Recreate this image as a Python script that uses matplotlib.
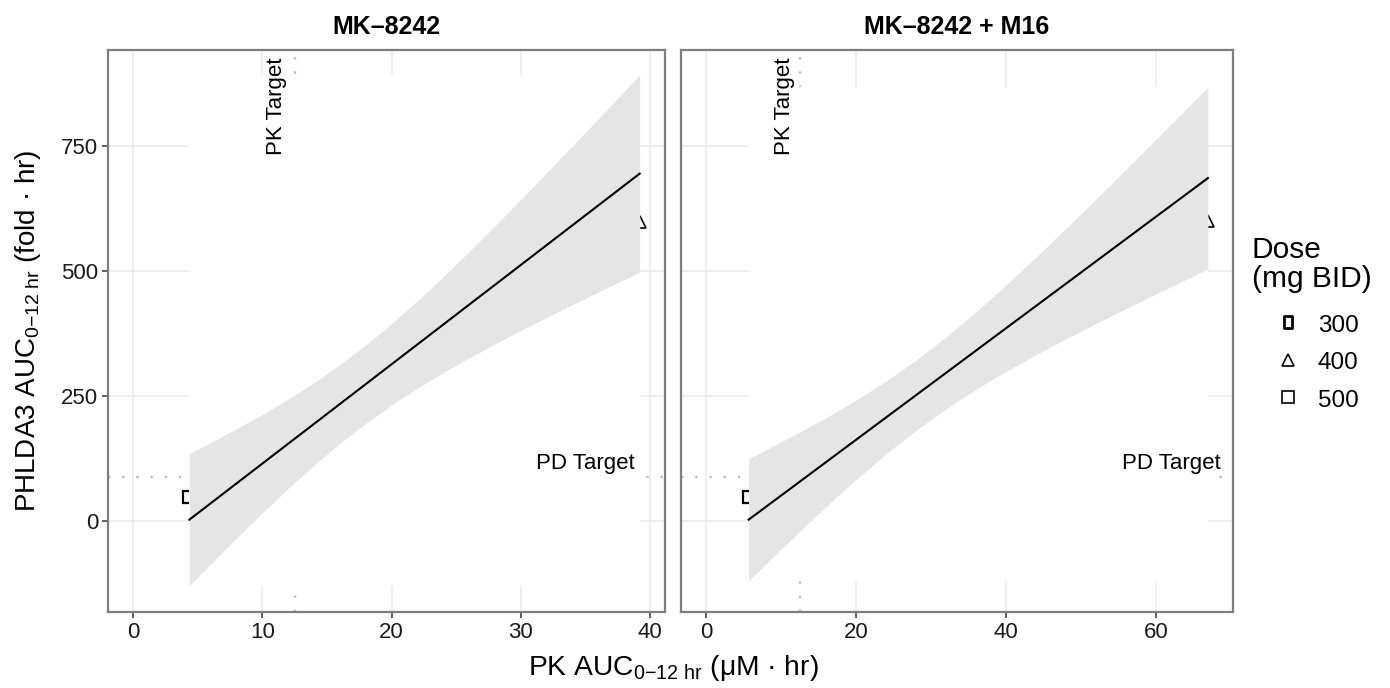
import matplotlib
matplotlib.use("Agg")
import matplotlib.pyplot as plt
from matplotlib.lines import Line2D
from matplotlib.path import Path
from matplotlib.patches import Rectangle

plt.rcParams["font.family"] = ["Liberation Sans", "DejaVu Sans"]
plt.rcParams["mathtext.fontset"] = "custom"
plt.rcParams["mathtext.rm"] = "Liberation Sans"
plt.rcParams["mathtext.it"] = "Liberation Sans"
plt.rcParams["mathtext.default"] = "regular"

# panels (facets)
panels = ["MK–8242", "MK–8242 + M16"]
x_limits = [(-1.96, 41.16), (-3.35, 70.25)]
x_ticks = [[0, 10, 20, 30, 40], [0, 20, 40, 60]]
y_ticks = [0, 250, 500, 750]
y_limits = (-181, 942)

# observed points by dose (only those visible)
pk_300 = [4.34, 5.67]
pd_300 = [48, 48]
pk_400 = [39.2, 66.9]
pd_400 = [598, 600]

# linear fit ends
fit_x = [[4.34, 39.2], [5.67, 66.9]]
fit_y = [[3.5, 695], [3.5, 686]]

# confidence band
band_x = [
    [4.34, 6, 8, 10, 12, 14, 16, 18, 20, 22, 24, 26, 28, 30, 32, 34, 36, 38, 39.2],
    [5.67, 8, 12, 16, 20, 24, 28, 32, 36, 40, 44, 48, 52, 56, 60, 64, 66.9],
]
band_hi = [
    [135.5, 157.6, 185.2, 214.1, 244.6, 277.6, 313.5, 352.7, 395.4, 441.1,
     489.3, 539.5, 591.0, 643.5, 696.8, 750.6, 804.8, 859.4, 892.2],
    [125.5, 143.3, 174.7, 207.4, 242.5, 280.5, 322.4, 368.7, 418.9, 472.4,
     528.3, 585.8, 644.4, 703.8, 763.8, 824.2, 868.1],
]
band_lo = [
    [-128.5, -84.8, -33.0, 17.5, 66.2, 112.6, 156.1, 196.3, 233.0, 266.5,
     297.7, 326.9, 354.8, 381.7, 407.8, 433.4, 458.4, 483.2, 498.0],
    [-118.5, -84.3, -26.5, 29.8, 83.9, 135.1, 182.4, 225.3, 264.3, 300.0,
     333.3, 365.0, 395.6, 425.4, 454.6, 483.4, 504.1],
]

# targets
pk_target = 12.5
pd_target = 88
pd_label_x = [35.0, 62.0]

doses = ["300", "400", "500"]

W, H = 1390, 688
fig = plt.figure(figsize=(W / 100, H / 100), dpi=100)

rects = [
    [108 / W, (H - 612) / H, 557 / W, 562 / H],
    [681 / W, (H - 612) / H, 552 / W, 562 / H],
]

border = "#7f7f7f"
grid_c = "#ebebeb"
dot_c = "#bdbdbd"

for i, name in enumerate(panels):
    ax = fig.add_axes(rects[i])
    ax.set_xlim(*x_limits[i])
    ax.set_ylim(*y_limits)
    ax.set_xticks(x_ticks[i])
    ax.set_yticks(y_ticks)
    ax.grid(True, color=grid_c, lw=1.1, zorder=0.5)
    ax.set_axisbelow(True)
    for s in ax.spines.values():
        s.set_color(border)
        s.set_linewidth(1.6)
    ax.tick_params(axis="both", colors="#333333", length=4, width=1.1,
                   labelsize=16, labelcolor="#1a1a1a", pad=3)
    if i == 1:
        ax.tick_params(axis="y", left=False, labelleft=False)

    # target lines
    ax.axhline(pd_target, color=dot_c, lw=1.7, dashes=(1, 5), zorder=1)
    ax.axvline(pk_target, color=dot_c, lw=1.7, dashes=(1, 5), zorder=1)

    # points
    ax.plot(pk_300[i], pd_300[i], ls="none", marker="s", ms=8, mfc="none",
            mec="black", mew=1.6, zorder=2)
    ax.plot(pk_400[i], pd_400[i], ls="none", marker="^", ms=8.5, mfc="none",
            mec="black", mew=1.2, zorder=2)

    # white block behind the smoother
    bx0, bx1 = min(band_x[i]), max(band_x[i])
    by0, by1 = min(band_lo[i]), max(band_hi[i])
    ax.add_patch(Rectangle((bx0, by0), bx1 - bx0, by1 - by0,
                           facecolor="white", edgecolor="none", zorder=3))

    ax.fill_between(band_x[i], band_lo[i], band_hi[i], color="#e5e5e5",
                    lw=0, zorder=4)
    ax.plot(fit_x[i], fit_y[i], color="black", lw=1.5, zorder=5)

    ax.text(pk_target - 0.6, y_limits[1] - 14, "PK Target", rotation=90,
            ha="right", va="top", fontsize=16, zorder=6)
    ax.text(pd_label_x[i], pd_target + 6, "PD Target", ha="center",
            va="bottom", fontsize=16, zorder=6)

    fig.text(rects[i][0] + rects[i][2] / 2, 1 - 27 / H, name, ha="center",
             va="center", fontsize=18, fontweight="bold")

fig.text(673 / W, 1 - 668 / H, "PK AUC$_{0{-}12\\ hr}$ (μM · hr)",
         ha="center", va="center", fontsize=20.3)
fig.text(28 / W, 1 - 331 / H, "PHLDA3 AUC$_{0{-}12\\ hr}$ (fold · hr)",
         ha="center", va="center", rotation=90, fontsize=20)

narrow = Path([(-0.3, -0.5), (0.3, -0.5), (0.3, 0.5), (-0.3, 0.5), (-0.3, -0.5)],
              closed=True)
handles = [
    Line2D([], [], ls="none", marker=narrow, ms=9, mfc="none", mec="black", mew=2.0),
    Line2D([], [], ls="none", marker="^", ms=9, mfc="none", mec="black", mew=1.2),
    Line2D([], [], ls="none", marker="s", ms=8, mfc="none", mec="black", mew=1.2),
]
leg = fig.legend(handles, doses, title="Dose\n(mg BID)", loc="upper left",
                 bbox_to_anchor=(1252 / W, 1 - 236 / H), frameon=False,
                 fontsize=17.5, title_fontsize=21.5, borderpad=0, borderaxespad=0,
                 handlelength=2.96, handletextpad=-0.25, handleheight=1.0,
                 labelspacing=0.55, alignment="left", markerfirst=True)
leg._legend_box.sep = 14
leg.get_title().set_linespacing(1.05)

fig.savefig("out.png", dpi=100)
